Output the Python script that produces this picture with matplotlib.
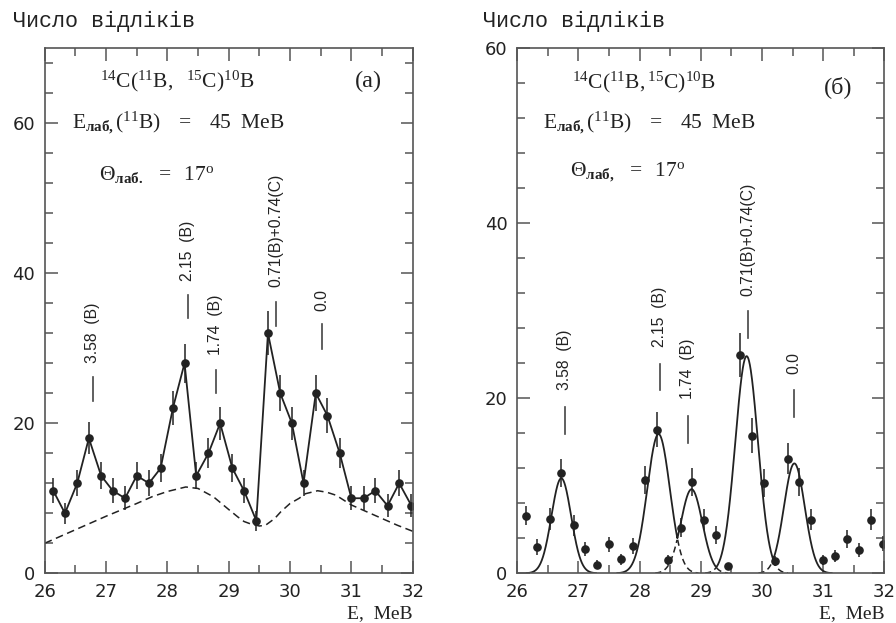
import matplotlib
matplotlib.use("Agg")
import matplotlib.pyplot as plt
import numpy as np
from matplotlib.ticker import MultipleLocator

plt.rcParams["mathtext.fontset"] = "custom"
plt.rcParams["mathtext.rm"] = "Liberation Serif"
plt.rcParams["mathtext.it"] = "Liberation Serif:italic"
plt.rcParams["mathtext.bf"] = "Liberation Serif:bold"

# energies of the spectrum channels (MeV), same for both panels
E = [26.14, 26.33, 26.53, 26.72, 26.92, 27.11, 27.31, 27.50, 27.70, 27.89,
     28.09, 28.28, 28.47, 28.67, 28.86, 29.06, 29.25, 29.45, 29.64, 29.84,
     30.03, 30.22, 30.42, 30.61, 30.81, 31.00, 31.20, 31.39, 31.59, 31.78, 31.98]

# panel (a): raw counts
counts_a = [11, 8, 12, 18, 13, 11, 10, 13, 12, 14, 22, 28, 13, 16, 20, 14,
            11, 7, 32, 24, 20, 12, 24, 21, 16, 10, 10, 11, 9, 12, 9]
err_a = [1.7, 1.4, 1.7, 2.1, 1.8, 1.7, 1.6, 1.8, 1.7, 1.9, 2.3, 2.6, 1.8, 2.0,
         2.2, 1.9, 1.7, 1.3, 2.9, 2.4, 2.2, 1.7, 2.4, 2.3, 2.0, 1.6, 1.6, 1.7,
         1.5, 1.7, 1.5]

# panel (a): background (dashed)
bg_E = [26.0, 26.25, 26.5, 27.0, 27.5, 27.75, 28.0, 28.15, 28.3, 28.5, 28.75,
        29.0, 29.15, 29.25, 29.35, 29.5, 29.6, 29.75, 29.85, 30.0, 30.15,
        30.25, 30.45, 30.6, 30.75, 31.0, 31.25, 31.5, 31.75, 32.0]
bg_N = [4.0, 4.9, 5.8, 7.6, 9.3, 10.2, 10.9, 11.2, 11.5, 11.3, 10.2,
        8.5, 7.5, 6.9, 6.6, 6.3, 6.4, 7.3, 8.2, 9.3, 10.0,
        10.6, 11.0, 10.8, 10.4, 9.1, 8.2, 7.3, 6.4, 5.6]

# panel (б): background-subtracted counts
counts_b = [6.6, 3.0, 6.2, 11.4, 5.5, 2.8, 1.0, 3.3, 1.6, 3.1, 10.6, 16.4, 1.5,
            5.2, 10.4, 6.1, 4.4, 0.8, 24.9, 15.7, 10.3, 1.4, 13.1, 10.4, 6.1,
            1.5, 2.0, 3.9, 2.7, 6.1, 3.4]
err_b = [1.1, 0.9, 1.2, 1.6, 1.2, 0.8, 0.5, 0.9, 0.6, 0.9, 1.6, 2.0, 0.6, 1.1,
         1.6, 1.2, 1.0, 0.4, 2.5, 2.0, 1.6, 0.6, 1.8, 1.6, 1.2, 0.6, 0.7, 1.0,
         0.8, 1.2, 0.9]

# panel (б): gaussian fit peaks
peak_E = [26.72, 28.31, 28.85, 29.75, 30.53]
peak_h = [10.85, 15.9, 9.6, 24.8, 12.55]
peak_s = [0.16, 0.185, 0.175, 0.185, 0.17]

# level labels
lev_text = ["3.58  (B)", "2.15  (B)", "1.74  (B)", "0.71(B)+0.74(C)", "0.0"]
lev_E = [26.78, 28.33, 28.79, 29.77, 30.52]
lev_a = [(23.0, 26.2, 28.0), (34.0, 37.1, 39.0), (24.0, 27.1, 29.1),
         (33.0, 36.2, 38.2), (29.9, 33.2, 35.0)]
lev_b = [(15.9, 19.0, 20.9), (20.9, 23.9, 25.8), (14.9, 17.95, 19.9),
         (26.9, 30.0, 31.7), (17.9, 20.9, 22.8)]

dark = "#222222"
frame = "#555555"

fig = plt.figure(figsize=(8.96, 6.23), dpi=100)
axa = fig.add_axes([0.0499, 0.0798, 0.4107, 0.8432])
axb = fig.add_axes([0.5773, 0.0798, 0.4096, 0.8432])


def style(ax, ymax):
    ax.set_xlim(26, 32)
    ax.set_ylim(0, ymax)
    ax.set_xticks(range(26, 33))
    ax.set_yticks([0, 20, 40, 60])
    ax.xaxis.set_minor_locator(MultipleLocator(0.5))
    ax.yaxis.set_minor_locator(MultipleLocator(4))
    ax.tick_params(which="both", direction="in", top=True, right=True,
                   color=frame, width=1.1)
    ax.tick_params(which="major", length=9, pad=7)
    ax.tick_params(which="minor", length=5.5)
    for lab in ax.get_xticklabels() + ax.get_yticklabels():
        lab.set_fontfamily("DejaVu Sans")
        lab.set_fontsize(13)
        lab.set_color("#222222")
    for sp in ax.spines.values():
        sp.set_color(frame)
        sp.set_linewidth(1.2)


style(axa, 70)
style(axb, 60)

# panel (a)
axa.plot(bg_E, bg_N, "--", color=dark, lw=1.1, dashes=(5, 3))
axa.errorbar(E, counts_a, yerr=err_a, fmt="o-", color=dark, ms=5.2,
             lw=1.3, elinewidth=1.1, capsize=0)

# panel (б)
x = np.linspace(26, 32, 1200)
comps = [h * np.exp(-(x - c) ** 2 / (2 * s ** 2))
         for c, h, s in zip(peak_E, peak_h, peak_s)]
total = np.max(comps, axis=0)
for g in comps:
    dash = np.where((g < total - 0.05) & (g > 0.03), g, np.nan)
    axb.plot(x, dash, "--", color=dark, lw=1.1, dashes=(4, 2.5))
axb.plot(x, np.where(total > 0.02, total, np.nan), "-", color=dark, lw=1.3)
axb.errorbar(E, counts_b, yerr=err_b, fmt="o", color=dark, ms=5.2,
             elinewidth=1.1, capsize=0)

for ax, levs in ((axa, lev_a), (axb, lev_b)):
    for t, xe, (y0, y1, yt) in zip(lev_text, lev_E, levs):
        ax.plot([xe, xe], [y0, y1], "-", color="#444444", lw=1.2)
        ax.text(xe, yt, t, rotation=90, ha="center", va="bottom",
                fontsize=11.3, family="Liberation Sans", color=dark)

# inner titles
tfs = 15.5
e_line = (r"$\mathrm{E}_{\mathbf{лаб,}}(^{11}\mathrm{B})\ \ \ =\ \ \ 45\ \ "
          r"\mathrm{МеВ}$")
axa.text(0.15, 0.926, r"$^{14}\mathrm{C}(^{11}\mathrm{B},\ \ ^{15}\mathrm{C})^{10}\mathrm{B}$",
         transform=axa.transAxes, fontsize=tfs, color=dark)
axa.text(0.917, 0.926, "(a)", transform=axa.transAxes, fontsize=17.5,
         family="Liberation Serif", ha="right", color=dark)
axa.text(0.074, 0.848, e_line, transform=axa.transAxes, fontsize=tfs,
         color=dark)
axa.text(0.148, 0.749, r"$\Theta_{\mathbf{лаб.}}\ \ =\ \ 17^{\mathrm{o}}$",
         transform=axa.transAxes, fontsize=tfs, color=dark)

axb.text(0.148, 0.924, r"$^{14}\mathrm{C}(^{11}\mathrm{B},^{15}\mathrm{C})^{10}\mathrm{B}$",
         transform=axb.transAxes, fontsize=tfs, color=dark)
axb.text(0.912, 0.915, "(б)", transform=axb.transAxes, fontsize=17.5,
         family="Liberation Serif", ha="right", color=dark)
axb.text(0.070, 0.848, e_line, transform=axb.transAxes, fontsize=tfs,
         color=dark)
axb.text(0.144, 0.755, r"$\Theta_{\mathbf{лаб,}}\ \ =\ \ 17^{\mathrm{o}}$",
         transform=axb.transAxes, fontsize=tfs, color=dark)

# axis captions
for xf in (13 / 896, 483 / 896):
    fig.text(xf, 1 - 27 / 623, "Число відліків", family="Liberation Mono",
             fontsize=15.7, color=dark)
for ax in (axa, axb):
    ax.text(1.0, -0.085, "E,  МеВ", transform=ax.transAxes, ha="right",
            va="baseline", family="Liberation Serif", fontsize=14, color=dark)

fig.savefig("out.png", dpi=100)
